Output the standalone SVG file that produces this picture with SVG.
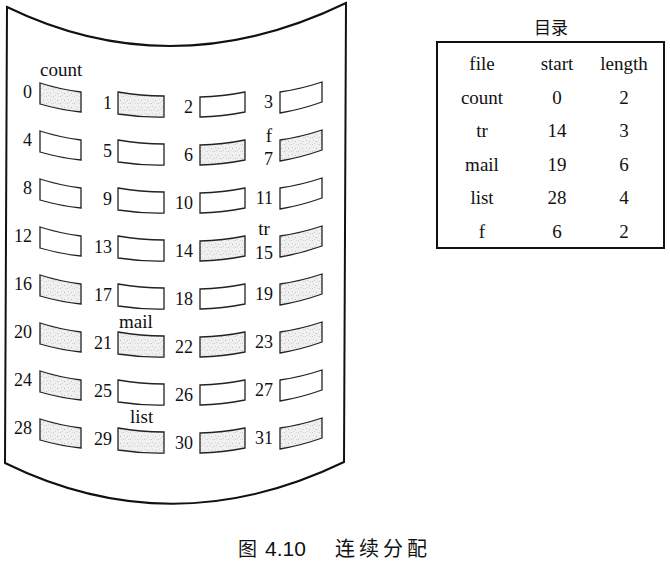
<svg xmlns="http://www.w3.org/2000/svg" xmlns:xlink="http://www.w3.org/1999/xlink" width="670" height="568" viewBox="0 0 670 568">
<style>
.blk{stroke:#222;stroke-width:1.3;stroke-linejoin:miter}
.s{fill:url(#stip)}
.w{fill:#fff}
.num{font-family:"Liberation Serif","Times New Roman",serif;font-size:18px;fill:#111;text-anchor:end}
.lab{font-family:"Liberation Serif","Times New Roman",serif;font-size:19px;fill:#111}
.tt{font-family:"Liberation Serif","Times New Roman",serif;font-size:19px;fill:#111;text-anchor:middle}
.cjk{font-family:"Noto Sans CJK SC","Noto Sans CJK JP",sans-serif;fill:#111}
</style>
<defs>
<pattern id="stip" width="7" height="7" patternUnits="userSpaceOnUse">
<rect width="7" height="7" fill="#f0f0f0"/>
<rect x="1" y="2" width="1" height="1" fill="#bdbdbd"/>
<rect x="4" y="5" width="1" height="1" fill="#c6c6c6"/>
<rect x="5" y="1" width="1" height="1" fill="#d2d2d2"/>
<rect x="2" y="5" width="1" height="1" fill="#d6d6d6"/>
<rect x="6" y="4" width="1" height="1" fill="#cccccc"/>
</pattern>
<path id="b0" d="M40,83 Q60.5,89.5 81,92 L81,112 Q60.5,110 40,104 Z"/>
<path id="b1" d="M118,92 Q141,96 164,96 L164,117 Q141,117.5 118,114 Z"/>
<path id="b2" d="M200,97 Q222.5,96.5 245,92 L245,112 Q222.5,116.5 200,117 Z"/>
<path id="b3" d="M280,92 Q301,89 322,82 L322,102 Q301,109.5 280,113 Z"/>
</defs>
<rect width="670" height="568" fill="#fff"/>
<g id="disk">
<path d="M7,7 Q172,87 346,3 L344,462 Q172,545 5,463 Z" fill="none" stroke="#111" stroke-width="2"/>
</g>
<g id="connectors"></g>
<g id="blocks">
<g id="blk0"><use href="#b0" class="blk s"/><text class="num" x="32" y="98">0</text></g>
<g id="blk1"><use href="#b1" class="blk s"/><text class="num" x="112" y="109">1</text></g>
<g id="blk2"><use href="#b2" class="blk w"/><text class="num" x="193" y="113">2</text></g>
<g id="blk3"><use href="#b3" class="blk w"/><text class="num" x="273" y="108">3</text></g>
<g id="blk4"><use href="#b0" y="48" class="blk w"/><text class="num" x="32" y="146">4</text></g>
<g id="blk5"><use href="#b1" y="48" class="blk w"/><text class="num" x="112" y="157">5</text></g>
<g id="blk6"><use href="#b2" y="48" class="blk s"/><text class="num" x="193" y="161">6</text></g>
<g id="blk7"><use href="#b3" y="48" class="blk s"/><text class="num" x="273" y="165">7</text></g>
<g id="blk8"><use href="#b0" y="96" class="blk w"/><text class="num" x="32" y="194">8</text></g>
<g id="blk9"><use href="#b1" y="96" class="blk w"/><text class="num" x="112" y="205">9</text></g>
<g id="blk10"><use href="#b2" y="96" class="blk w"/><text class="num" x="193" y="209">10</text></g>
<g id="blk11"><use href="#b3" y="96" class="blk w"/><text class="num" x="273" y="204">11</text></g>
<g id="blk12"><use href="#b0" y="144" class="blk w"/><text class="num" x="32" y="242">12</text></g>
<g id="blk13"><use href="#b1" y="144" class="blk w"/><text class="num" x="112" y="253">13</text></g>
<g id="blk14"><use href="#b2" y="144" class="blk s"/><text class="num" x="193" y="257">14</text></g>
<g id="blk15"><use href="#b3" y="144" class="blk s"/><text class="num" x="273" y="259">15</text></g>
<g id="blk16"><use href="#b0" y="192" class="blk s"/><text class="num" x="32" y="290">16</text></g>
<g id="blk17"><use href="#b1" y="192" class="blk w"/><text class="num" x="112" y="301">17</text></g>
<g id="blk18"><use href="#b2" y="192" class="blk w"/><text class="num" x="193" y="305">18</text></g>
<g id="blk19"><use href="#b3" y="192" class="blk s"/><text class="num" x="273" y="300">19</text></g>
<g id="blk20"><use href="#b0" y="240" class="blk s"/><text class="num" x="32" y="338">20</text></g>
<g id="blk21"><use href="#b1" y="240" class="blk s"/><text class="num" x="112" y="349">21</text></g>
<g id="blk22"><use href="#b2" y="240" class="blk s"/><text class="num" x="193" y="353">22</text></g>
<g id="blk23"><use href="#b3" y="240" class="blk s"/><text class="num" x="273" y="348">23</text></g>
<g id="blk24"><use href="#b0" y="288" class="blk s"/><text class="num" x="32" y="386">24</text></g>
<g id="blk25"><use href="#b1" y="288" class="blk w"/><text class="num" x="112" y="397">25</text></g>
<g id="blk26"><use href="#b2" y="288" class="blk w"/><text class="num" x="193" y="401">26</text></g>
<g id="blk27"><use href="#b3" y="288" class="blk w"/><text class="num" x="273" y="396">27</text></g>
<g id="blk28"><use href="#b0" y="336" class="blk s"/><text class="num" x="32" y="434">28</text></g>
<g id="blk29"><use href="#b1" y="336" class="blk s"/><text class="num" x="112" y="445">29</text></g>
<g id="blk30"><use href="#b2" y="336" class="blk s"/><text class="num" x="193" y="449">30</text></g>
<g id="blk31"><use href="#b3" y="336" class="blk s"/><text class="num" x="273" y="444">31</text></g>
</g>
<g id="file-labels">
<text class="lab" x="40" y="76">count</text>
<text class="lab" x="269" y="142" text-anchor="middle">f</text>
<text class="lab" x="264" y="235" text-anchor="middle">tr</text>
<text class="lab" x="119" y="328">mail</text>
<text class="lab" x="130" y="423">list</text>
</g>
<g id="directory">
<text class="cjk" x="551" y="34" font-size="17" text-anchor="middle">目录</text>
<rect x="437" y="42" width="227" height="206" fill="none" stroke="#111" stroke-width="2"/>
<text class="tt" x="482" y="70">file</text><text class="tt" x="557" y="70">start</text><text class="tt" x="624" y="70">length</text>
<text class="tt" x="482" y="104">count</text><text class="tt" x="557" y="104">0</text><text class="tt" x="624" y="104">2</text>
<text class="tt" x="482" y="137">tr</text><text class="tt" x="557" y="137">14</text><text class="tt" x="624" y="137">3</text>
<text class="tt" x="482" y="171">mail</text><text class="tt" x="557" y="171">19</text><text class="tt" x="624" y="171">6</text>
<text class="tt" x="482" y="204">list</text><text class="tt" x="557" y="204">28</text><text class="tt" x="624" y="204">4</text>
<text class="tt" x="482" y="238">f</text><text class="tt" x="557" y="238">6</text><text class="tt" x="624" y="238">2</text>
</g>
<g id="caption">
<text class="cjk" x="238" y="556" font-size="19">图</text>
<text x="265" y="556" font-family="'Liberation Sans',Arial,sans-serif" font-size="21" fill="#111">4.10</text>
<text class="cjk" x="335" y="556" font-size="20" letter-spacing="4">连续分配</text>
</g>
</svg>
